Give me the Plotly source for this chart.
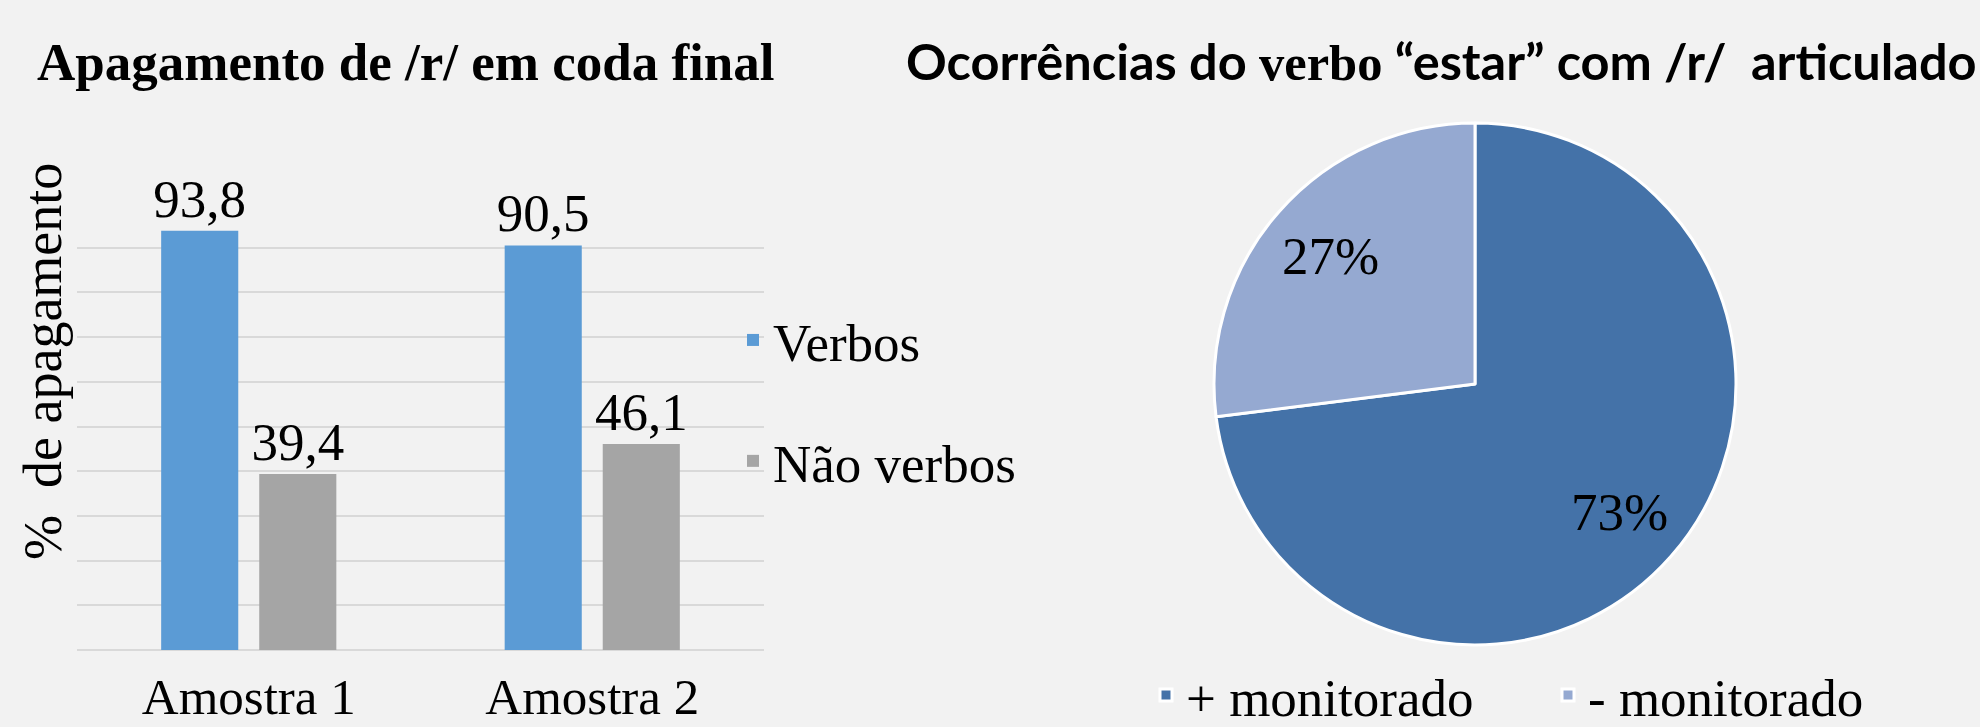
import math
import plotly.graph_objects as go

# ---- data ----
categories = ["Amostra 1", "Amostra 2"]
series_names = ["Verbos", "Não verbos"]
verbos = [93.8, 90.5]
nao_verbos = [39.4, 46.1]
pie_labels = ["+ monitorado", "- monitorado"]
pie_values = [73, 27]

left_title = "Apagamento de /r/ em coda final"
y_title = "%\u00a0 de apagamento"

W, H = 1980, 727
BG = "#f2f2f2"
SERIF = "Liberation Serif, Times New Roman, serif"
SANS = "Lato, Carlito, Calibri, sans-serif"
bar_colors = ["#5b9bd5", "#a5a5a5"]
pie_colors = ["#4472a8", "#95a9d1"]
FS = 53

bar_dom_x = [77 / W, 764 / W]
bar_dom_y = [1 - 650 / H, 1 - 203 / H]
pie_cx, pie_cy, pie_r = 1475, 384, 261
pie_dom_x = [(pie_cx - pie_r) / W, (pie_cx + pie_r) / W]
pie_dom_y = [1 - (pie_cy + pie_r) / H, 1 - (pie_cy - pie_r) / H]

def fmt(v):
    return f"{v:.1f}".replace(".", ",")

fig = go.Figure()
for i, (name, vals) in enumerate(zip(series_names, [verbos, nao_verbos])):
    fig.add_trace(go.Bar(
        x=categories, y=vals, name=name,
        marker=dict(color=bar_colors[i], line=dict(width=0)),
        text=[fmt(v) for v in vals], textposition="outside", constraintext="none",
        textfont=dict(family=SERIF, size=FS, color="#000000"),
        cliponaxis=False, legendgroup=name, legend="legend",
    ))

fig.add_trace(go.Pie(
    labels=pie_labels, values=pie_values, sort=False, direction="clockwise",
    rotation=0, textinfo="none", hoverinfo="label+percent",
    marker=dict(colors=pie_colors, line=dict(color="#ffffff", width=3)),
    domain=dict(x=pie_dom_x, y=pie_dom_y), legend="legend2",
))

annotations = []
# pie percentage labels placed along each slice's mid angle
total = sum(pie_values)
cum = 0
for v in pie_values:
    mid = (cum + v / 2) / total * 2 * math.pi
    cum += v
    px = pie_cx + 0.74 * pie_r * math.sin(mid)
    py = pie_cy - 0.74 * pie_r * math.cos(mid)
    annotations.append(dict(
        x=px / W, y=1 - py / H, xref="paper", yref="paper",
        text=f"{round(v / total * 100)}%", showarrow=False,
        font=dict(family=SERIF, size=FS, color="#000000"),
        xanchor="center", yanchor="middle"))

annotations.append(dict(
    x=406 / W, y=1 - 62 / H, xref="paper", yref="paper", text=f"<b>{left_title}</b>",
    showarrow=False, font=dict(family=SERIF, size=53, color="#000000"),
    xanchor="center", yanchor="middle"))
annotations.append(dict(
    x=904 / W, y=1 - 60 / H, xref="paper", yref="paper",
    text=("<b>Ocorrências do <span style=\"font-family:'Liberation Serif'\">verbo</span>"
          " “estar” com /r/\u00a0 articulado</b>"),
    showarrow=False, font=dict(family=SANS, size=50.5, color="#000000"),
    xanchor="left", yanchor="middle"))
annotations.append(dict(
    x=43 / W, y=1 - 362 / H, xref="paper", yref="paper", text=y_title,
    textangle=-90, showarrow=False, font=dict(family=SERIF, size=54, color="#000000"),
    xanchor="center", yanchor="middle"))

fig.update_layout(
    width=W, height=H, margin=dict(l=0, r=0, t=0, b=0, autoexpand=False),
    paper_bgcolor=BG, plot_bgcolor=BG,
    barmode="group", bargap=0.429, bargroupgap=0.214,
    xaxis=dict(domain=bar_dom_x, showline=False, showgrid=False, automargin=False,
               ticks="outside", ticklen=2, tickcolor="rgba(0,0,0,0)",
               ticklabelstandoff=0,
               tickfont=dict(family=SERIF, size=51, color="#000000")),
    yaxis=dict(domain=bar_dom_y, range=[0, 100], dtick=10, showticklabels=False,
               automargin=False,
               gridcolor="#d9d9d9", gridwidth=2, zeroline=True,
               zerolinecolor="#d9d9d9", zerolinewidth=2, showline=False),
    legend=dict(x=733 / W, y=1 - 299 / H, xanchor="left", yanchor="top",
                traceorder="grouped", tracegroupgap=49, bgcolor="rgba(0,0,0,0)",
                font=dict(family=SERIF, size=FS, color="#000000")),
    legend2=dict(orientation="h", x=1548 / W, y=1 - 695 / H, xanchor="center",
                 yanchor="middle", bgcolor="rgba(0,0,0,0)",
                 entrywidth=357, entrywidthmode="pixels",
                 font=dict(family=SERIF, size=FS, color="#000000")),
    annotations=annotations,
    showlegend=True,
)

fig.write_html("out.html")
